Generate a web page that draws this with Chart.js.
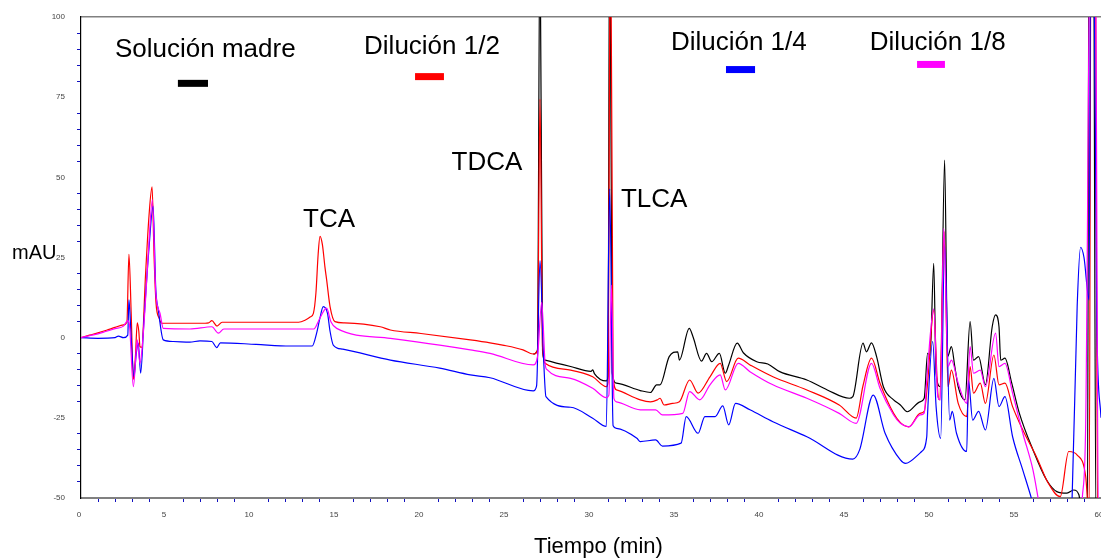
<!DOCTYPE html>
<html>
<head>
<meta charset="utf-8">
<title>Cromatograma - diluciones</title>
<script src="https://cdn.jsdelivr.net/npm/chart.js@4/dist/chart.umd.min.js"></script>
<style>
  html, body { margin: 0; padding: 0; background: #fff; overflow: hidden; }
  #wrap { width: 1101px; height: 558px; }
</style>
</head>
<body>
<div id="wrap"><canvas id="chrom" width="1101" height="558"></canvas></div>
<script>
// Retention time (min) and absorbance (mAU) for each trace
const timeMadre = [26.6, 26.85, 27.0, 27.15, 27.3, 28.8, 30.0, 30.1, 30.2, 30.9,
  31.0, 31.1, 31.25, 31.5, 32.9, 33.5, 33.86, 34.06, 34.6, 35.1,
  35.2, 35.78, 36.0, 36.5, 36.8, 37.1, 37.55, 37.9, 38.1, 38.6,
  38.96, 39.75, 40.4, 41.1, 42.7, 43.9, 45.2, 45.4, 46.0, 46.2,
  46.5, 46.8, 47.2, 47.8, 48.2, 48.6, 49.35, 49.6, 49.8, 49.95,
  50.16, 50.3, 50.55, 50.8, 50.98, 51.2, 51.4, 51.6, 52.0, 52.3,
  52.5, 52.8, 53.2, 53.6, 53.8, 54.0, 54.1, 54.35, 54.75, 55.2,
  56.0, 56.8, 57.4, 58.0, 58.4, 58.7, 58.9, 59.2, 59.3, 59.55,
  59.7, 59.85, 60];
const absMadre = [-5.1, -4, 130, -4, -7, -9, -10.5, -10, -11.2, -13.5,
  -12, 140, -11, -14.2, -16.5, -17.1, -14.7, -14.7, -5.9, -4.4,
  -7, 2.9, 0.3, -7.3, -4.9, -7.5, -4.9, -11.1, -8.5, -1.7,
  -4.7, -7.5, -8.2, -10.6, -13.2, -16.3, -18.9, -18.4, -1.7, -4.4,
  -1.6, -5.9, -15.3, -19.4, -21, -23.1, -20, -18.9, -4.9, -5.5,
  23.2, -11.1, -15.3, 55.4, -5.9, -2.8, -9, -15.3, -19.4, 5.0,
  -7, -5.9, -14.7, 3.4, 7.1, 3.4, -7, -6.4, -14.2, -23.6,
  -35, -44.4, -48, -48.5, -47.5, -49, -56, -56, 140, 140,
  -56, -56, -50];

const timeDil2 = [0, 0.5, 1.0, 1.5, 2.0, 2.5, 2.7, 2.82, 2.95, 3.08,
  3.2, 3.31, 3.4, 3.47, 3.57, 3.8, 4.0, 4.18, 4.3, 4.41,
  4.6, 4.75, 6.0, 7.3, 7.5, 7.7, 8.0, 8.3, 10.0, 12.8,
  13.2, 13.5, 13.67, 13.82, 13.95, 14.06, 14.2, 14.35, 14.45, 14.65,
  14.94, 15.5, 17.6, 18.2, 20.0, 22.9, 24.06, 24.8, 26.0, 26.6,
  26.85, 27.0, 27.15, 27.3, 28.8, 30.1, 30.9, 31.0, 31.15, 31.3,
  31.5, 32.9, 33.5, 33.9, 34.06, 34.3, 34.8, 35.2, 35.8, 36.3,
  37.0, 37.6, 37.98, 38.66, 39.35, 40.7, 42.7, 44.6, 45.6, 46.0,
  46.5, 47.0, 47.8, 48.2, 48.7, 49.35, 49.6, 49.8, 50.16, 50.4,
  50.5, 50.78, 51.0, 51.2, 51.6, 52.1, 52.3, 52.5, 52.9, 53.2,
  53.7, 54.0, 54.35, 54.8, 55.4, 56.2, 56.9, 57.6, 58.1, 58.6,
  59.1, 59.3, 59.42, 59.65, 59.8, 60];
const absDil2 = [0, 0.8, 1.5, 2.3, 3.2, 4.0, 4.8, 26, 8, -13,
  -6, 4.6, 2, -2.8, -3, 20, 38, 47, 25, 11,
  6, 4.5, 4.5, 4.5, 4.6, 5.3, 3.6, 4.8, 4.8, 4.8,
  5.5, 6.5, 7.6, 14, 26, 31.6, 29, 22, 18, 9.7,
  5, 4.6, 3.4, 2.4, 1.3, -0.7, -1.6, -2.3, -3.8, -5.1,
  -4, 74.4, -3, -8, -10.1, -12.2, -15.3, -14, 140, -12,
  -16.3, -19.4, -20, -19.4, -18.9, -21, -20.5, -20, -13.2, -17.3,
  -12.2, -8, -13.7, -6.4, -8.5, -12.2, -16.3, -21, -25.1, -15,
  -6.4, -14.2, -23.6, -26.5, -27.8, -23.6, -23, -14.2, 8.6, -17.3,
  -19.4, 33, -15.3, -10.1, -20.5, -24.6, -9, -17.3, -14.2, -20.5,
  -5.4, -14.7, -14.2, -21.5, -28.8, -37.1, -45.4, -49.6, -35.5, -36.6,
  -43.3, -56, 140, 140, -56, -56];

const timeDil4 = [0, 1.0, 2.0, 2.2, 2.5, 2.75, 2.82, 2.95, 3.12, 3.25,
  3.37, 3.51, 3.7, 4.0, 4.24, 4.4, 4.55, 4.84, 5.43, 6.4,
  7.0, 7.7, 7.98, 8.2, 10.3, 12.3, 13.6, 13.86, 14.05, 14.25,
  14.5, 14.65, 14.84, 15.4, 18.2, 21.1, 22.9, 24.06, 26.6, 26.8,
  27.0, 27.2, 27.35, 28.8, 30.1, 30.9, 31.1, 31.3, 31.5, 32.7,
  32.9, 33.8, 34.2, 35.3, 35.6, 36.3, 36.7, 37.3, 37.75, 38.1,
  38.5, 39.35, 40.7, 42.7, 45.4, 45.8, 46.6, 47.3, 48.2, 48.5,
  49.35, 49.45, 49.75, 49.8, 50.1, 50.3, 50.57, 50.8, 51.1, 51.25,
  51.5, 52.1, 52.2, 52.45, 52.8, 53.2, 53.7, 54.0, 54.35, 54.8,
  55.4, 55.9, 56.2, 58.2, 58.3, 58.6, 58.8, 59.0, 59.3, 59.4,
  59.55, 59.75, 60];
const absDil4 = [0, -0.2, 0, 0.5, 0, 0.8, 11.8, 0, -12.2, -5,
  -1.7, -11.1, 5, 28, 41, 15, 8.6, -0.7, -1.2, -1.4,
  -1, -1.2, -3.1, -1.6, -2.1, -2.6, -2.6, 1.4, 6, 9.7,
  7.6, 2, -2.3, -3.6, -7, -9.5, -11.6, -12.5, -16.6, -15,
  24, -5, -18.4, -21.7, -25.1, -27.7, 46.4, -27.5, -28.3, -31.4,
  -32.4, -31.9, -33.8, -32.9, -24.6, -29.8, -24.6, -24.6, -21.3, -27.2,
  -20.5, -22.5, -26.2, -30.9, -37.9, -35, -17.9, -29.8, -38.1, -39.2,
  -36, -35.5, -30.9, -23.6, -1.2, -21.5, -31.4, 29, -25.7, -23,
  -29.8, -35.5, -13.2, -25.7, -23, -28.8, -12.7, -21.5, -18.4, -30.9,
  -41.3, -50, -56, -56, -50, 10, 28.2, 25, 11.8, 140,
  140, 5, -25];

const timeDil8 = [0, 0.5, 1.0, 1.5, 2.0, 2.5, 2.75, 2.85, 3.08, 3.25,
  3.31, 3.47, 3.6, 3.8, 4.0, 4.2, 4.4, 4.65, 4.84, 6.4,
  7.7, 8.08, 8.4, 13.7, 14.0, 14.3, 14.45, 14.7, 15.04, 18.2,
  21.1, 22.9, 24.06, 26.6, 26.85, 27.1, 27.3, 27.4, 28.8, 30.1,
  30.9, 31.05, 31.2, 31.35, 31.5, 32.9, 33.8, 34.2, 35.4, 35.8,
  36.4, 37.0, 37.6, 37.9, 38.66, 39.35, 40.7, 42.7, 44.6, 45.6,
  46.5, 47.0, 47.8, 48.2, 48.7, 49.35, 49.6, 49.75, 50.16, 50.4,
  50.55, 50.75, 51.0, 51.2, 51.6, 52.1, 52.3, 52.5, 52.9, 53.2,
  53.8, 54.0, 54.35, 54.8, 55.4, 56.0, 56.3, 56.5, 58.8, 58.9,
  59.1, 59.4, 59.65, 59.85, 60];
const absDil8 = [0, 0.6, 1.2, 2.0, 2.8, 3.6, 5.3, 4, -15.3, -4,
  -0.7, -8, -3, 12, 30, 43, 14, 7.6, 2.9, 2.7,
  3.4, 1.4, 2.7, 2.7, 5.5, 8.5, 9.2, 5, 2.9, -0.2,
  -2.3, -3.8, -4.9, -8.5, -6, 11, -8, -9.9, -12.7, -15.8,
  -18.7, -18, 16.4, -19, -20, -22.5, -22.5, -24.1, -23.6, -16.8,
  -19.4, -14.7, -11.6, -16.3, -8, -10.6, -14.7, -18.9, -23.6, -26.7,
  -8, -15.8, -24.1, -26.7, -27.8, -24.1, -23.5, -13.2, 9, -18.4,
  -19.4, 34, -9, -7, -14.2, -20.5, -2.8, -11.1, -10.1, -15.3,
  1.4, -9, -8, -17.3, -29.8, -41.3, -50, -56, -56, -50,
  -26.6, 140, 140, -56, -56];

const seriesNames = ['Solución madre', 'Dilución 1/2', 'Dilución 1/4', 'Dilución 1/8'];
const peakNames = ['TCA', 'TDCA', 'TLCA'];

// Where the texts and colour keys sit, in axis units (min, mAU)
const namePlaces = [[2.0, 87.4], [16.65, 88.5], [34.7, 89.7], [46.4, 89.7]];
const keyPlaces = [[5.7, 7.47, 80.4], [19.65, 21.35, 82.5], [37.94, 39.65, 84.7], [49.18, 50.82, 86.3]];
const peakPlaces = [[13.06, 34.5], [21.8, 52.3], [31.76, 40.8]];
const traceColors = ['#000000', '#ff0000', '#0000ff', '#ff00ff'];

const FONT = 'Arial, "Liberation Sans", sans-serif';
const TICK_BLUE = '#1010c0';

function points(times, values) {
  return times.map((t, i) => ({ x: t, y: values[i] }));
}

function minorTick(every) {
  return ctx => (ctx.tick && ctx.tick.value % every === 0) ? 'rgba(0,0,0,0)' : TICK_BLUE;
}

const textLayer = {
  id: 'textLayer',
  afterDraw(chart) {
    const { ctx, scales: { x, y }, chartArea } = chart;
    ctx.save();
    ctx.textBaseline = 'alphabetic';
    ctx.textAlign = 'left';

    ctx.font = '26px ' + FONT;
    seriesNames.forEach((name, i) => {
      ctx.fillStyle = '#000';
      ctx.fillText(name, x.getPixelForValue(namePlaces[i][0]), y.getPixelForValue(namePlaces[i][1]));
      const k = keyPlaces[i];
      const left = x.getPixelForValue(k[0]);
      ctx.fillStyle = traceColors[i];
      ctx.fillRect(left, y.getPixelForValue(k[2]), x.getPixelForValue(k[1]) - left, 7);
    });

    ctx.fillStyle = '#000';
    peakNames.forEach((name, i) => {
      ctx.fillText(name, x.getPixelForValue(peakPlaces[i][0]), y.getPixelForValue(peakPlaces[i][1]));
    });

    // axis titles
    ctx.font = '20px ' + FONT;
    ctx.fillText('mAU', 12, y.getPixelForValue(24.4));
    ctx.font = '22px ' + FONT;
    ctx.textAlign = 'center';
    ctx.fillText('Tiempo (min)', x.getPixelForValue(30.44), chartArea.bottom + 55);
    ctx.restore();
  }
};

new Chart(document.getElementById('chrom'), {
  type: 'line',
  data: {
    datasets: [
      { label: seriesNames[0], data: points(timeMadre, absMadre), borderColor: traceColors[0], order: 4 },
      { label: seriesNames[1], data: points(timeDil2, absDil2), borderColor: traceColors[1], order: 3 },
      { label: seriesNames[2], data: points(timeDil4, absDil4), borderColor: traceColors[2], order: 2 },
      { label: seriesNames[3], data: points(timeDil8, absDil8), borderColor: traceColors[3], order: 1 }
    ]
  },
  options: {
    responsive: false,
    animation: false,
    layout: { padding: { top: 17, left: 0, right: 0, bottom: 0 } },
    elements: {
      line: { borderWidth: 1.2, cubicInterpolationMode: 'monotone', fill: false },
      point: { radius: 0 }
    },
    plugins: { legend: { display: false }, tooltip: { enabled: false } },
    scales: {
      x: {
        type: 'linear', min: 0, max: 60,
        ticks: {
          stepSize: 1, autoSkip: false, maxRotation: 0, padding: 8, labelOffset: -2,
          color: '#444', font: { size: 8, family: FONT },
          callback: v => (v % 5 === 0 ? String(v) : '')
        },
        grid: { drawOnChartArea: false, tickLength: 4, lineWidth: 1, color: minorTick(5) },
        border: { color: '#808080', width: 2 },
        afterFit: s => { s.height = 60; s.paddingLeft = 0; s.paddingRight = 0; }
      },
      xTop: {
        type: 'linear', position: 'top', min: 0, max: 60,
        ticks: { display: false },
        grid: { display: false, drawTicks: false },
        border: { color: '#808080', width: 1.5 },
        afterFit: s => { s.height = 0; s.paddingLeft = 0; s.paddingRight = 0; }
      },
      y: {
        min: -50, max: 100,
        ticks: {
          stepSize: 5, autoSkip: false, padding: 12,
          color: '#444', font: { size: 8, family: FONT },
          callback: v => (v % 25 === 0 ? String(v) : '')
        },
        grid: { drawOnChartArea: false, tickLength: 4, lineWidth: 1, color: minorTick(25) },
        border: { color: '#000', width: 1.2 },
        afterFit: s => { s.width = 81; s.paddingTop = 0; s.paddingBottom = 0; }
      }
    }
  },
  plugins: [textLayer]
});
</script>
</body>
</html>
